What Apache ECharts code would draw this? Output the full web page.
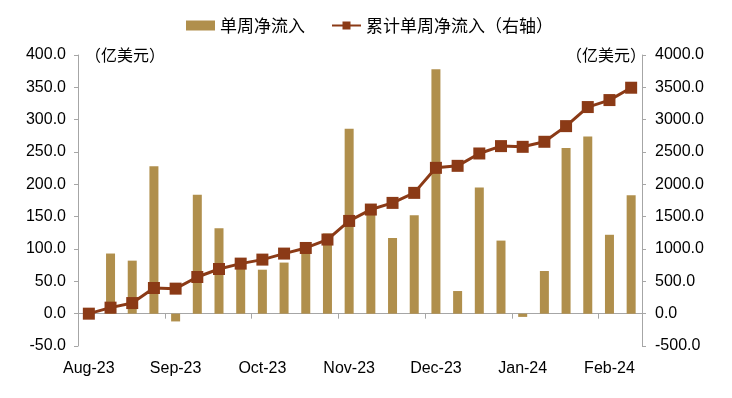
<!DOCTYPE html>
<html>
<head>
<meta charset="utf-8">
<script src="https://cdn.jsdelivr.net/npm/echarts@6/dist/echarts.min.js"></script>
<style>
html,body{margin:0;padding:0;background:#fff;}
#c{width:732px;height:398px;}
</style>
</head>
<body>
<div id="c"></div>
<script>
var weeks = ['W01','W02','W03','W04','W05','W06','W07','W08','W09','W10','W11','W12','W13',
             'W14','W15','W16','W17','W18','W19','W20','W21','W22','W23','W24','W25','W26'];
var monthLabels = ['Aug-23','Sep-23','Oct-23','Nov-23','Dec-23','Jan-24','Feb-24'];
var weeklyFlow = [0, 93, 82, 228, -12, 184, 132, 70, 68, 79, 97, 124, 286, 155, 117,
                  152, 378, 35, 195, 113, -5, 66, 256, 274, 122, 183];
var cumulativeFlow = [0, 93, 164, 397, 387, 567, 691, 774, 836, 929, 1016, 1146, 1434, 1610, 1713,
                      1868, 2255, 2286, 2477, 2591, 2580, 2658, 2900, 3195, 3303, 3494];
var seriesNames = ['单周净流入', '累计单周净流入（右轴）'];
var unitLabel = '（亿美元）';

var BAR = '#B08F4C';
var LINE = '#8B3A16';
var AXIS = '#A6A6A6';
var NUMFONT = '"Liberation Sans", Arial, sans-serif';
var CJK = '"Noto Sans CJK SC", sans-serif';

var chart = echarts.init(document.getElementById('c'), null, {renderer: 'canvas'});
chart.setOption({
  animation: false,
  backgroundColor: '#fff',
  grid: {left: 78, right: 90, top: 55, bottom: 52, containLabel: false},
  legend: {
    top: 12, left: 181,
    itemWidth: 29, itemHeight: 10, itemGap: 26,
    textStyle: {fontFamily: CJK, fontSize: 17, color: '#000'},
    data: [
      {name: seriesNames[0], icon: 'rect'},
      {name: seriesNames[1]}
    ]
  },
  xAxis: [
    {
      type: 'category', data: weeks, boundaryGap: true,
      axisLine: {show: true, onZero: true, lineStyle: {color: AXIS, width: 1}},
      axisTick: {show: true, interval: 3, length: 5, inside: false, lineStyle: {color: AXIS}},
      axisLabel: {show: false},
      splitLine: {show: false}
    },
    {
      type: 'category', data: weeks, boundaryGap: true, position: 'bottom',
      axisLine: {show: false, onZero: false},
      axisTick: {show: false},
      axisLabel: {
        show: true, interval: 3, margin: 15,
        fontFamily: NUMFONT, fontSize: 16, color: '#000',
        formatter: function (v, i) { return monthLabels[i / 4] || ''; }
      },
      splitLine: {show: false}
    }
  ],
  yAxis: [
    {
      type: 'value', min: -50, max: 400, interval: 50, position: 'left',
      axisLine: {show: true, lineStyle: {color: AXIS}},
      axisTick: {show: true, length: 4, lineStyle: {color: AXIS}},
      axisLabel: {fontFamily: NUMFONT, fontSize: 16, color: '#000', margin: 12,
                  formatter: function (v) { return v.toFixed(1); }},
      splitLine: {show: false}
    },
    {
      type: 'value', min: -500, max: 4000, interval: 500, position: 'right',
      axisLine: {show: true, lineStyle: {color: AXIS}},
      axisTick: {show: true, length: 4, lineStyle: {color: AXIS}},
      axisLabel: {fontFamily: NUMFONT, fontSize: 16, color: '#000', margin: 13,
                  formatter: function (v) { return v.toFixed(1); }},
      splitLine: {show: false}
    }
  ],
  series: [
    {
      name: seriesNames[0], type: 'bar', xAxisIndex: 0, yAxisIndex: 0,
      data: weeklyFlow, barWidth: 9,
      itemStyle: {color: BAR}
    },
    {
      name: seriesNames[1], type: 'line', xAxisIndex: 0, yAxisIndex: 1,
      data: cumulativeFlow,
      symbol: 'rect', symbolSize: 12, showSymbol: true,
      lineStyle: {color: LINE, width: 3},
      itemStyle: {color: LINE},
      z: 5
    }
  ],
  graphic: [
    {type: 'text', left: 85, top: 47,
     style: {text: unitLabel, font: '16px "Noto Sans CJK SC", sans-serif', fill: '#000'}},
    {type: 'text', left: 566, top: 47,
     style: {text: unitLabel, font: '16px "Noto Sans CJK SC", sans-serif', fill: '#000'}}
  ]
});
</script>
</body>
</html>
